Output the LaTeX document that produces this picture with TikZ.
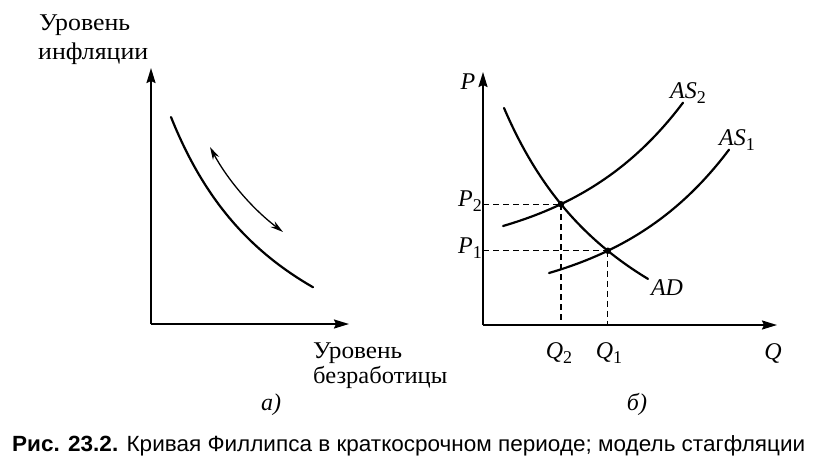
\documentclass[tikz,border=0pt]{standalone}
\usepackage{fontspec}
\setmainfont{Liberation Serif}
\setsansfont{Liberation Sans}
\usetikzlibrary{arrows.meta,intersections}
\newcommand\subidx[1]{\raisebox{-5pt}{\fontsize{18}{20}\selectfont\upshape #1}}
\begin{document}
\begin{tikzpicture}[x=1pt,y=-1pt,
  axis/.style={line width=1.8pt,-{Stealth[length=15pt,width=9pt,inset=2pt]}},
  curve/.style={line width=2.2pt,line cap=round},
  guide/.style={line width=1.3pt,dash pattern=on 6pt off 4pt},
  lbl/.style={font=\fontsize{24}{28}\selectfont,inner sep=0pt},
  mlbl/.style={font=\fontsize{24}{28}\selectfont\itshape,inner sep=0pt},
  dot/.style={circle,fill=black,inner sep=0pt,minimum size=6.5pt}]
\useasboundingbox (0,0) rectangle (816,474);
% ---------- panel a ----------
\coordinate (oa) at (151,324);
\coordinate (ya) at (151,68);
\coordinate (xa) at (349,324);
\draw[axis] (oa) -- (ya);
\draw[axis] (oa) -- (xa);
\draw[curve] plot[domain=171:313,samples=60,smooth] (\x,{444.2-428.57/((\x-40)/100)});
\coordinate (da1) at (210,147);
\coordinate (da2) at (283,232);
\draw[line width=1.3pt,{Stealth[length=13pt,width=7pt]}-{Stealth[length=13pt,width=7pt]}]
  (da1) .. controls (226,177) and (250,207) .. (da2);
\node[lbl,anchor=base west] (ylab) at (39,30) {\resizebox{91pt}{\height}{Уровень}};
\node[lbl,anchor=base west] (ylab2) at (38,59) {\resizebox{110pt}{\height}{инфляции}};
\node[lbl,anchor=base west] (xlab) at (313,358) {\resizebox{89pt}{\height}{Уровень}};
\node[lbl,anchor=base west] (xlab2) at (313,383) {\resizebox{134pt}{\height}{безработицы}};
\node[mlbl,anchor=base] (capa) at (271,410) {а)};
% ---------- panel b ----------
\coordinate (ob) at (483,325);
\coordinate (yb) at (483,72);
\coordinate (xb) at (777,325);
\draw[axis] (ob) -- (yb);
\draw[axis] (ob) -- (xb);
\draw[curve,name path=as2] plot[domain=503:683,samples=60,smooth] (\x,{226-34.7*(exp(0.00842*(\x-503))-1)});
\draw[curve,name path=as1] plot[domain=549:729,samples=60,smooth] (\x,{273-34.7*(exp(0.00842*(\x-549))-1)});
\draw[curve,name path=ad] plot[domain=504:648,samples=60,smooth] (\x,{455.8-518.28/((\x-355)/100)});
\path[name intersections={of=as2 and ad,by={E2}}];
\path[name intersections={of=as1 and ad,by={E1}}];
\draw[guide] (ob |- E2) -- (E2);
\draw[guide] (E2) -- (E2 |- ob);
\draw[guide] (ob |- E1) -- (E1);
\draw[guide] (E1) -- (E1 |- ob);
\node[dot] (d2) at (E2) {};
\node[dot] (d1) at (E1) {};
\node[mlbl] (Pl) at (468,82) {P};
\node[mlbl,anchor=east] (P2l) at (482,201) {P\subidx{2}};
\node[mlbl,anchor=east] (P1l) at (482,248) {P\subidx{1}};
\node[mlbl] (Q2l) at (559,353) {Q\subidx{2}};
\node[mlbl] (Q1l) at (609,353) {Q\subidx{1}};
\node[mlbl] (Ql) at (773,353) {Q};
\node[mlbl] (AS2l) at (688,93) {AS\subidx{2}};
\node[mlbl] (AS1l) at (737,140) {AS\subidx{1}};
\node[mlbl] (ADl) at (667,288) {AD};
\node[mlbl,anchor=base] (capb) at (637,410) {б)};
% ---------- caption ----------
\node[anchor=base west,inner sep=0pt,font=\sffamily\fontsize{22}{26}\selectfont] (cap) at (12,451)
  {\resizebox{793pt}{\height}{\textbf{Рис. 23.2.} Кривая Филлипса в краткосрочном периоде; модель стагфляции}};
\end{tikzpicture}
\end{document}
